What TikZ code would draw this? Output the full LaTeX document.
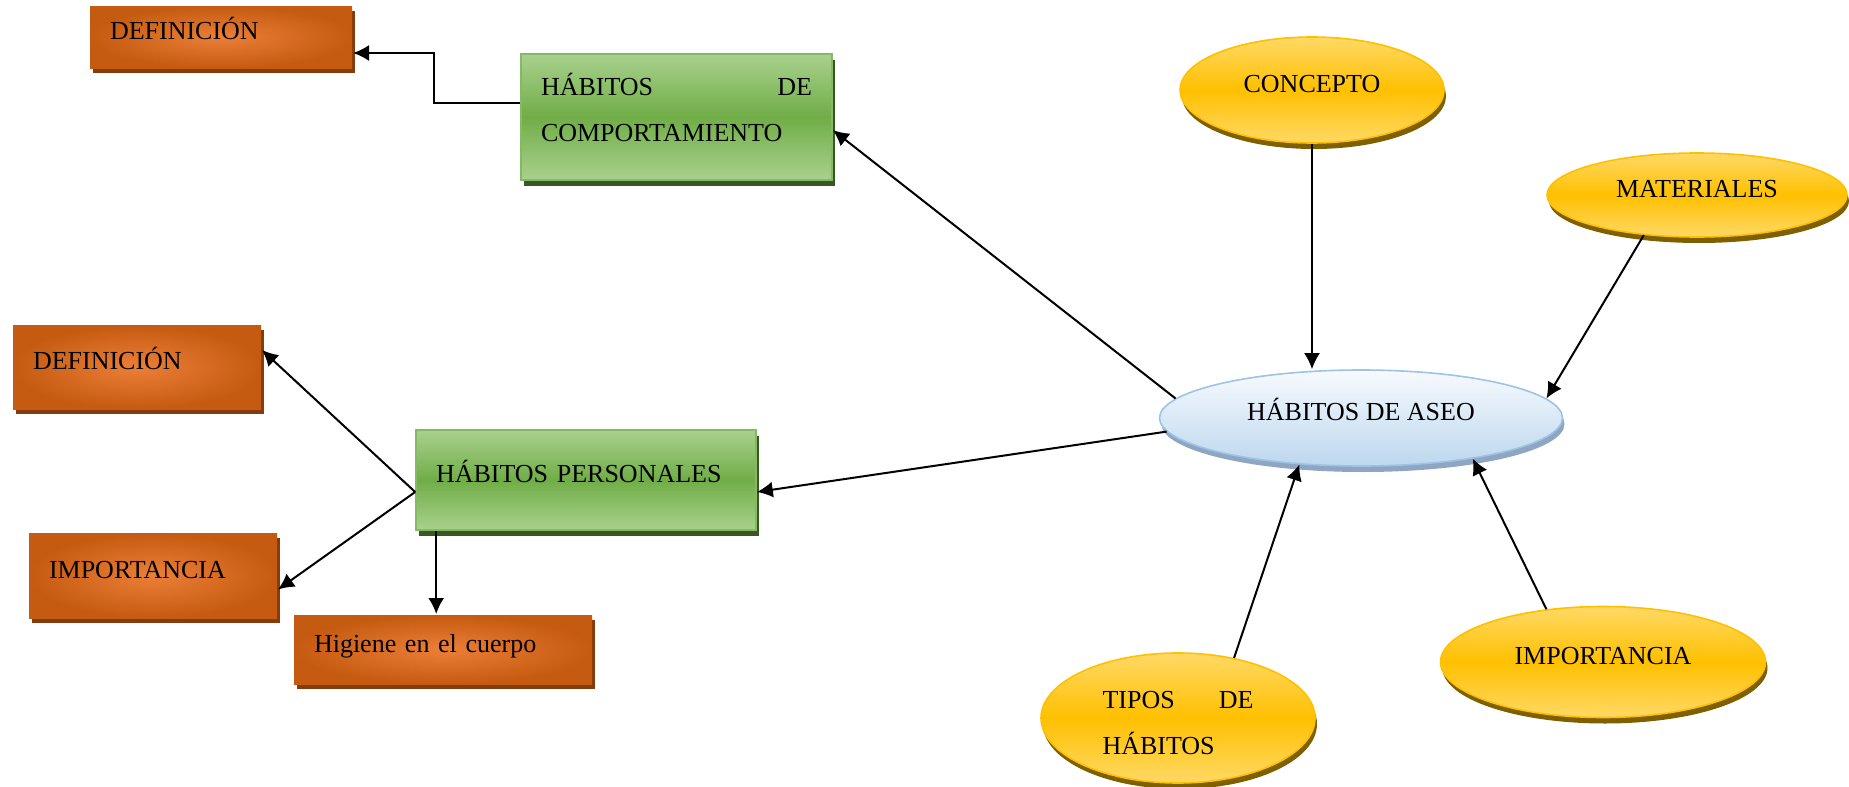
\documentclass[tikz,border=0pt]{standalone}
\usepackage{fontspec}
\setmainfont{Liberation Serif}
\usetikzlibrary{arrows.meta,shapes.geometric,shadows}
\definecolor{orangedark}{HTML}{C55A11}
\definecolor{orangelight}{HTML}{EC7F37}
\definecolor{orangeshadow}{HTML}{843C0C}
\definecolor{greenlight}{HTML}{A9D18E}
\definecolor{greenmid}{HTML}{70AD47}
\definecolor{greenshadow}{HTML}{385723}
\definecolor{yellowlight}{HTML}{FFD966}
\definecolor{yellowmid}{HTML}{FFC000}
\definecolor{yellowshadow}{HTML}{7F6000}
\definecolor{bluetop}{HTML}{F7FAFE}
\definecolor{bluebottom}{HTML}{BDD7EE}
\definecolor{blueborder}{HTML}{9DC3E6}
\definecolor{blueshadow}{HTML}{8EA6C2}
\tikzset{
	orangebox/.style={rectangle, inner color=orangelight, outer color=orangedark, inner xsep=10pt, align=left, text height=10pt, text depth=7.4pt, copy shadow={shadow xshift=1.5pt, shadow yshift=-2.5pt, fill=orangeshadow, draw=none}},
	greenbox/.style={rectangle, top color=greenlight, bottom color=greenlight, middle color=greenmid, draw=greenmid!85!white, line width=0.8pt, inner xsep=10pt, align=left, text height=10pt, text depth=7.4pt, copy shadow={shadow xshift=1.5pt, shadow yshift=-3pt, fill=greenshadow, draw=none}},
	yellowoval/.style={ellipse, top color=yellowlight, bottom color=yellowlight, middle color=yellowmid, draw=yellowmid, line width=0.8pt, text height=10pt, text depth=7.4pt, copy shadow={shadow xshift=1pt, shadow yshift=-3pt, fill=yellowshadow, draw=none}},
	blueoval/.style={ellipse, top color=bluetop, bottom color=bluebottom, draw=blueborder, line width=0.8pt, text height=10pt, text depth=7.4pt, copy shadow={shadow xshift=1pt, shadow yshift=-3pt, fill=blueshadow, draw=none}},
}
\begin{document}
\begin{tikzpicture}[x=0.5pt, y=-0.5pt, line width=1pt, >={Latex[length=8pt,width=8pt]}, font=\fontsize{13pt}{23pt}\selectfont]
	\useasboundingbox (0,0) rectangle (1849,787);
	\node[orangebox, text width=111pt, minimum height=31pt] (def1) at (221,37) {DEFINICIÓN};
	\node[greenbox, text width=135.5pt, minimum height=63pt, text height=12pt, text depth=33.5pt] (hc) at (676.5,117) {HÁBITOS \hfill DE\\COMPORTAMIENTO};
	\node[orangebox, text width=104pt, minimum height=42pt] (def2) at (137,367) {DEFINICIÓN};
	\node[greenbox, text width=150pt, minimum height=50pt] (hp) at (586,480) {HÁBITOS PERSONALES};
	\node[orangebox, text width=104pt, minimum height=42.5pt] (imp1) at (153,575.5) {IMPORTANCIA};
	\node[orangebox, text width=129pt, minimum height=34.5pt] (hig) at (443,649.5) {Higiene en el cuerpo};
	\node[blueoval, minimum width=201.5pt, minimum height=48pt] (aseo) at (1361,418) {HÁBITOS DE ASEO};
	\node[yellowoval, minimum width=132pt, minimum height=53pt] (concepto) at (1312,90) {CONCEPTO};
	\node[yellowoval, minimum width=150pt, minimum height=42pt] (materiales) at (1697,195) {MATERIALES};
	\node[yellowoval, minimum width=137pt, minimum height=65pt, text width=75.5pt, align=left, text height=14pt, text depth=] (tipos) at (1178,718) {TIPOS \hfill DE\\HÁBITOS};
	\node[yellowoval, minimum width=162.5pt, minimum height=55.5pt] (imp2) at (1603,662) {IMPORTANCIA};
	\coordinate (hpdown) at ([xshift=10.5pt]hp.south west);
	\draw[->] ([yshift=7pt]hc.west) -- ++(-86,0) |- ([yshift=-8pt]def1.east);
	\draw[->] ([yshift=-6pt]hp.west) to ([yshift=8.5pt]def2.east);
	\draw[->] ([yshift=-6pt]hp.west) to ([yshift=-7pt]imp1.east);
	\draw[->] (hpdown) to (hpdown |- hig.north);
	\draw[->] (aseo.174) to ([yshift=-6.5pt]hc.east);
	\draw[->] (aseo.184) to ([yshift=-6pt]hp.east);
	\draw[->] (concepto.south) to (concepto.south |- aseo.north);
	\draw[->] (materiales.217) to (aseo.6);
	\draw[->] (tipos.47) to (aseo.217);
	\draw[->] (imp2.137) to (aseo.340);
\end{tikzpicture}
\end{document}
